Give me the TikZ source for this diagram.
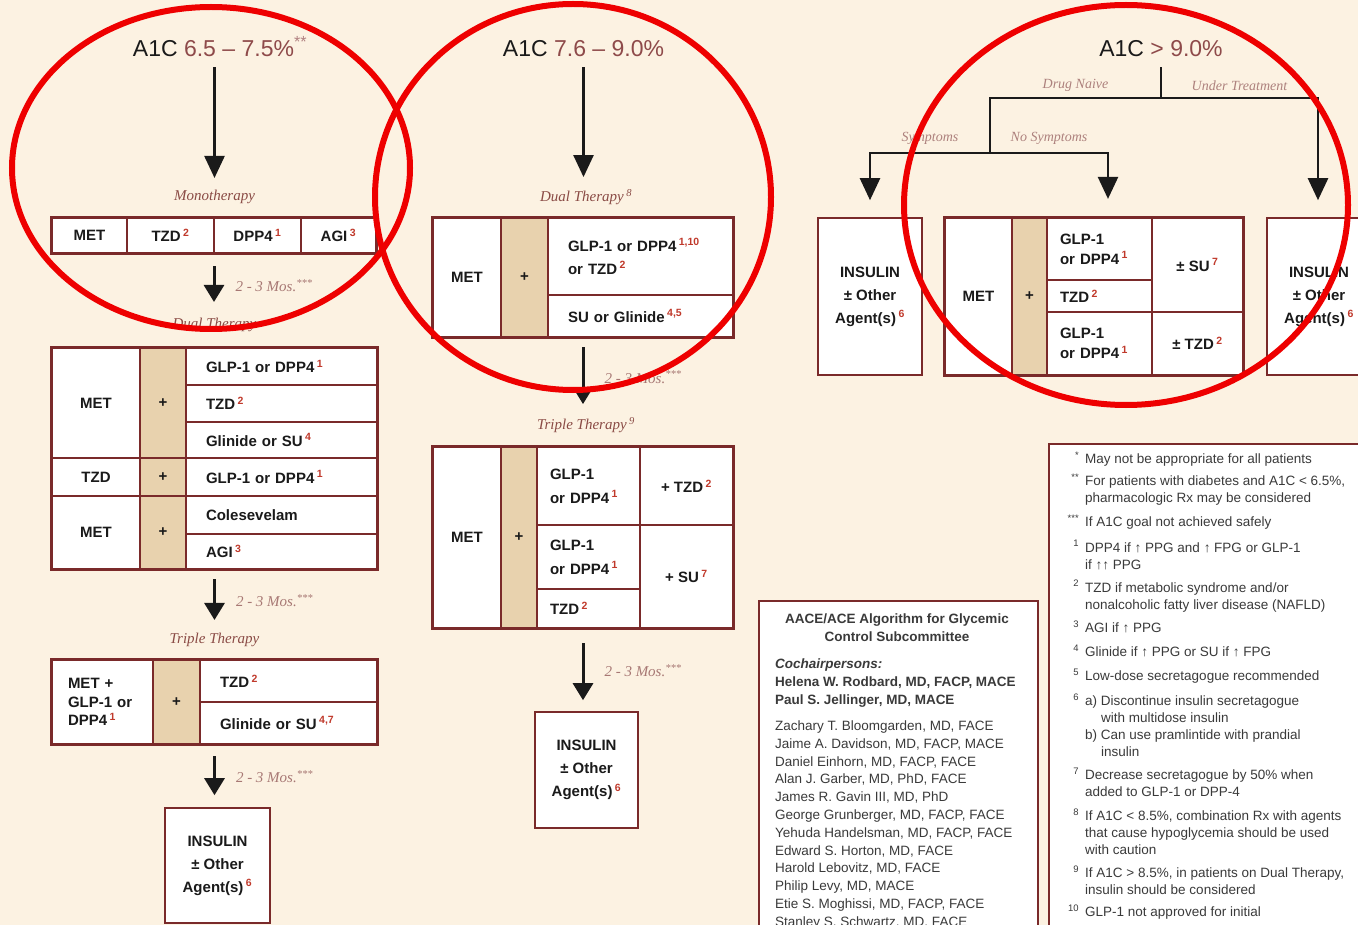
\documentclass[tikz,border=0pt]{standalone}
\usepackage{fontspec}
\setmainfont{Liberation Sans}
\newfontfamily\labfont{Liberation Serif}
\usetikzlibrary{arrows.meta, positioning, fit}
\definecolor{cbg}{HTML}{FCF2E2}
\definecolor{cframe}{HTML}{7A2A2A}
\definecolor{ctan}{HTML}{E8D2AE}
\definecolor{clabel}{HTML}{8A4B45}
\definecolor{cnum}{HTML}{8E4A4A}
\definecolor{cnote}{HTML}{C0392B}
\definecolor{cink}{HTML}{1A1A1A}
\definecolor{cgray}{HTML}{3A3A3A}
\definecolor{cring}{HTML}{EE0000}
\newcommand{\dnote}[1]{\textsuperscript{\textcolor{cnote}{#1}}}
\newcommand{\nmark}[1]{\llap{\textsuperscript{#1}\hspace{6pt}}}

\begin{document}
\begin{tikzpicture}[
  x=1pt, y=-1pt,
  drugcell/.style={draw=cframe, fill=white, line width=1.6pt, text=cink, align=center,
                   inner sep=0pt, font=\fontsize{15}{20}\selectfont\bfseries},
  pluscell/.style={drugcell, fill=ctan},
  lcell/.style={drugcell, align=left, inner xsep=20pt},
  insul/.style={drugcell, font=\fontsize{15}{23}\selectfont\bfseries},
  tabframe/.style={draw=cframe, line width=2.6pt, inner sep=0pt},
  panel/.style={draw=cframe, fill=white, line width=2pt, inner sep=0pt, anchor=north west},
  a1c/.style={font=\fontsize{23}{27}\selectfont, text=cink, inner sep=0pt, anchor=base},
  phase/.style={font=\labfont\itshape\fontsize{15}{18}\selectfont, text=clabel, inner sep=2pt},
  mos/.style={font=\labfont\itshape\fontsize{15}{18}\selectfont, text=clabel!75,
              anchor=west, inner sep=2pt, xshift=18pt},
  branch/.style={font=\labfont\itshape\fontsize{14}{16}\selectfont, text=clabel!70, inner sep=2pt},
  flow/.style={-{Triangle[length=22pt,width=20pt]}, draw=cink, line width=2.4pt},
  stepflow/.style={-{Triangle[length=17pt,width=20pt]}, draw=cink, line width=3pt},
  branchline/.style={draw=cink, line width=2pt, line cap=rect},
  notetext/.style={anchor=west, align=left, inner sep=0pt, text=cgray,
                   font=\fontsize{13.5}{17}\selectfont},
  member/.style={anchor=west, align=left, inner sep=0pt, text=cgray,
                 font=\fontsize{13.5}{17.8}\selectfont},
  ring/.style={draw=cring, line width=6pt}
]
\useasboundingbox (0,0) rectangle (1358,925);
\fill[cbg] (0,0) rectangle (1358,925);

% A1C 6.5 - 7.5 %
\node[a1c] (t1) at (220,57) {A1C \textcolor{cnum}{6.5 – 7.5\%}\textsuperscript{\textcolor{cnum!70}{**}}};
\node[phase] (lmono) at (214.5,197) {Monotherapy};
\node[drugcell, minimum width=75pt, minimum height=35pt] (m1) at (89.5,235.5) {MET};
\node[drugcell, minimum width=87pt, minimum height=35pt] (m2) at (170.5,235.5) {TZD\,\dnote{2}};
\node[drugcell, minimum width=87pt, minimum height=35pt] (m3) at (257.5,235.5) {DPP4\,\dnote{1}};
\node[drugcell, minimum width=75pt, minimum height=35pt] (m4) at (338.5,235.5) {AGI\,\dnote{3}};
\node[tabframe, fit=(m1)(m4)] (monobox) {};

\node[phase] (ldual1) at (214.5,325) {Dual Therapy};
\node[drugcell, minimum width=88pt, minimum height=110pt] (d1met) at (96,403) {MET};
\node[pluscell, minimum width=46pt, minimum height=110pt] (d1p) at (163,403) {+};
\node[lcell, text width=151pt, minimum height=37pt] (d1a) at (281.5,366.5) {GLP-1 or DPP4\,\dnote{1}};
\node[lcell, text width=151pt, minimum height=37pt] (d1b) at (281.5,403.5) {TZD\,\dnote{2}};
\node[lcell, text width=151pt, minimum height=36pt] (d1c) at (281.5,440) {Glinide or SU\,\dnote{4}};
\node[drugcell, minimum width=88pt, minimum height=38pt] (d1tzd) at (96,477) {TZD};
\node[pluscell, minimum width=46pt, minimum height=38pt] (d1p2) at (163,477) {+};
\node[lcell, text width=151pt, minimum height=38pt] (d1d) at (281.5,477) {GLP-1 or DPP4\,\dnote{1}};
\node[drugcell, minimum width=88pt, minimum height=73pt] (d1met2) at (96,532.5) {MET};
\node[pluscell, minimum width=46pt, minimum height=73pt] (d1p3) at (163,532.5) {+};
\node[lcell, text width=151pt, minimum height=38pt] (d1e) at (281.5,515) {Colesevelam};
\node[lcell, text width=151pt, minimum height=35pt] (d1f) at (281.5,551.5) {AGI\,\dnote{3}};
\node[tabframe, fit=(d1met)(d1f)] (dualbox1) {};

\node[phase] (ltriple1) at (214.5,640) {Triple Therapy};
\node[lcell, inner xsep=16pt, text width=69pt, minimum height=84pt, font=\fontsize{15}{18.5}\selectfont\bfseries] (t1a) at (102.5,702) {MET +\\GLP-1 or\\DPP4\,\dnote{1}};
\node[pluscell, minimum width=47pt, minimum height=84pt] (t1p) at (176.5,702) {+};
\node[lcell, text width=137pt, minimum height=42pt] (t1b) at (288.5,681) {TZD\,\dnote{2}};
\node[lcell, text width=137pt, minimum height=42pt] (t1c) at (288.5,723) {Glinide or SU\,\dnote{4,7}};
\node[tabframe, fit=(t1a)(t1c)] (triplebox1) {};

\node[insul, minimum width=105pt, minimum height=115pt] (ins1) at (217.5,865.5) {INSULIN\\± Other\\Agent(s)\,\dnote{6}};

\draw[flow, shorten <=10pt, shorten >=10pt] (lmono |- t1.south) -- (lmono);
\draw[stepflow, shorten <=11pt, shorten >=14pt] (monobox) -- node[mos]{2 - 3 Mos.\textsuperscript{***}} (monobox |- ldual1.north);
\draw[stepflow, shorten <=8pt, shorten >=11pt] (dualbox1) -- node[mos]{2 - 3 Mos.\textsuperscript{***}} (dualbox1 |- ltriple1.north);
\draw[stepflow, shorten <=10pt, shorten >=12pt] (triplebox1) -- node[mos]{2 - 3 Mos.\textsuperscript{***}} (triplebox1 |- ins1.north);

% A1C 7.6 - 9.0 %
\node[a1c] (t2) at (583.5,57) {A1C \textcolor{cnum}{7.6 – 9.0\%}};
\node[phase] (ldual2) at (586,197) {Dual Therapy\,\textsuperscript{8}};
\node[drugcell, minimum width=68pt, minimum height=119pt] (d2met) at (467,277.5) {MET};
\node[pluscell, minimum width=47pt, minimum height=119pt] (d2p) at (524.5,277.5) {+};
\node[lcell, text width=145pt, minimum height=77pt, font=\fontsize{15}{23}\selectfont\bfseries] (d2a) at (640.5,256.5) {GLP-1 or DPP4\,\dnote{1,10}\\or TZD\,\dnote{2}};
\node[lcell, text width=145pt, minimum height=42pt] (d2b) at (640.5,316) {SU or Glinide\,\dnote{4,5}};
\node[tabframe, fit=(d2met)(d2b)] (dualbox2) {};

\node[phase] (ltriple2) at (586,425) {Triple Therapy\,\textsuperscript{9}};
\node[drugcell, minimum width=68pt, minimum height=181pt] (t2met) at (467,537.5) {MET};
\node[pluscell, minimum width=36pt, minimum height=181pt] (t2p) at (519,537.5) {+};
\node[lcell, inner xsep=13pt, text width=77pt, minimum height=78pt, font=\fontsize{15}{24}\selectfont\bfseries] (t2a) at (588.5,486) {GLP-1\\or DPP4\,\dnote{1}};
\node[drugcell, minimum width=93pt, minimum height=78pt] (t2b) at (686.5,486) {+ TZD\,\dnote{2}};
\node[lcell, inner xsep=13pt, text width=77pt, minimum height=64pt, font=\fontsize{15}{24}\selectfont\bfseries] (t2c) at (588.5,557) {GLP-1\\or DPP4\,\dnote{1}};
\node[lcell, inner xsep=13pt, text width=77pt, minimum height=39pt] (t2d) at (588.5,608.5) {TZD\,\dnote{2}};
\node[drugcell, minimum width=93pt, minimum height=103pt] (t2e) at (686.5,576.5) {+ SU\,\dnote{7}};
\node[tabframe, fit=(t2met)(t2e)] (triplebox2) {};

\node[insul, minimum width=103pt, minimum height=116pt] (ins2) at (586.5,770) {INSULIN\\± Other\\Agent(s)\,\dnote{6}};

\draw[flow, shorten <=10pt, shorten >=10pt] (t2) -- (t2 |- ldual2.north);
\draw[stepflow, shorten <=8pt, shorten >=11pt] (dualbox2) -- node[mos]{2 - 3 Mos.\textsuperscript{***}} (dualbox2 |- ltriple2.north);
\draw[stepflow, shorten <=13pt, shorten >=11pt] (triplebox2) -- node[mos]{2 - 3 Mos.\textsuperscript{***}} (triplebox2 |- ins2.north);

% A1C > 9.0 %
\node[a1c] (t3) at (1161,57) {A1C \textcolor{cnum}{> 9.0\%}};
\coordinate (top3) at (1161,98);
\coordinate (naive) at (990,98);
\coordinate (treated) at (1318,98);
\coordinate (split) at (990,153);
\coordinate (sympt) at (870,153);
\coordinate (nosympt) at (1108,153);

\node[insul, minimum width=104pt, minimum height=157pt] (ins3a) at (870,296.5) {INSULIN\\± Other\\Agent(s)\,\dnote{6}};
\node[drugcell, minimum width=67pt, minimum height=157pt] (b3met) at (978.5,296.5) {MET};
\node[pluscell, minimum width=35pt, minimum height=157pt] (b3p) at (1029.5,296.5) {+};
\node[lcell, inner xsep=13pt, text width=79pt, minimum height=62pt] (b3a) at (1099.5,249) {GLP-1\\or DPP4\,\dnote{1}};
\node[lcell, inner xsep=13pt, text width=79pt, minimum height=32pt] (b3b) at (1099.5,296) {TZD\,\dnote{2}};
\node[lcell, inner xsep=13pt, text width=79pt, minimum height=63pt] (b3c) at (1099.5,343.5) {GLP-1\\or DPP4\,\dnote{1}};
\node[drugcell, minimum width=91pt, minimum height=94pt] (b3d) at (1197.5,265) {± SU\,\dnote{7}};
\node[drugcell, minimum width=91pt, minimum height=63pt] (b3e) at (1197.5,343.5) {± TZD\,\dnote{2}};
\node[tabframe, fit=(b3met)(b3e)] (bigbox3) {};
\node[insul, minimum width=104pt, minimum height=157pt] (ins3b) at (1319,296.5) {INSULIN\\± Other\\Agent(s)\,\dnote{6}};

\draw[branchline, shorten <=11pt] (t3) -- (top3);
\draw[branchline] (naive) -- node[branch, above=4pt]{Drug Naive} (top3) -- node[branch, above=4pt]{Under Treatment} (treated);
\draw[branchline] (naive) -- (split);
\draw[branchline] (sympt) -- node[branch, above=5pt]{Symptoms} (split) -- node[branch, above=5pt]{No Symptoms} (nosympt);
\draw[flow, shorten >=17pt] (sympt) -- (ins3a);
\draw[flow, shorten >=17pt] (nosympt) -- (nosympt |- bigbox3.north);
\draw[flow, shorten >=17pt] (treated) -- (treated |- ins3b.north);

% committee
\node[panel, minimum width=279pt, minimum height=345pt] (comm) at (758,600) {};
\node[text=cgray, align=center, inner sep=0pt, font=\fontsize{13.5}{18}\selectfont\bfseries] (commhead) at (897,628) {AACE/ACE Algorithm for Glycemic\\Control Subcommittee};
\node[member, font=\fontsize{13.5}{18}\selectfont\bfseries] (chairs) at (775,683) {\textit{Cochairpersons:}\\Helena W. Rodbard, MD, FACP, MACE\\Paul S. Jellinger, MD, MACE};
\node[member] (members) at (775,825) {Zachary T. Bloomgarden, MD, FACE\\Jaime A. Davidson, MD, FACP, MACE\\Daniel Einhorn, MD, FACP, FACE\\Alan J. Garber, MD, PhD, FACE\\James R. Gavin III, MD, PhD\\George Grunberger, MD, FACP, FACE\\Yehuda Handelsman, MD, FACP, FACE\\Edward S. Horton, MD, FACE\\Harold Lebovitz, MD, FACE\\Philip Levy, MD, MACE\\Etie S. Moghissi, MD, FACP, FACE\\Stanley S. Schwartz, MD, FACE};

% footnotes
\node[panel, minimum width=330pt, minimum height=500pt] (notes) at (1048,443) {};
\node[notetext] (fnA) at (1085,459) {\nmark{*}May not be appropriate for all patients};
\node[notetext] (fnB) at (1085,490) {\nmark{**}For patients with diabetes and A1C < 6.5\%,\\pharmacologic Rx may be considered};
\node[notetext] (fnC) at (1085,522) {\nmark{***}If A1C goal not achieved safely};
\node[notetext] (fn1) at (1085,555) {\nmark{1}DPP4 if ↑ PPG and ↑ FPG or GLP-1\\if ↑↑ PPG};
\node[notetext] (fn2) at (1085,596) {\nmark{2}TZD if metabolic syndrome and/or\\nonalcoholic fatty liver disease (NAFLD)};
\node[notetext] (fn3) at (1085,627) {\nmark{3}AGI if ↑ PPG};
\node[notetext] (fn4) at (1085,651) {\nmark{4}Glinide if ↑ PPG or SU if ↑ FPG};
\node[notetext] (fn5) at (1085,676) {\nmark{5}Low-dose secretagogue recommended};
\node[notetext] (fn6) at (1085,725) {\nmark{6}a) Discontinue insulin secretagogue\\\hspace*{16pt}with multidose insulin\\b) Can use pramlintide with prandial\\\hspace*{16pt}insulin};
\node[notetext] (fn7) at (1085,782.5) {\nmark{7}Decrease secretagogue by 50\% when\\added to GLP-1 or DPP-4};
\node[notetext] (fn8) at (1085,832) {\nmark{8}If A1C < 8.5\%, combination Rx with agents\\that cause hypoglycemia should be used\\with caution};
\node[notetext] (fn9) at (1085,880.5) {\nmark{9}If A1C > 8.5\%, in patients on Dual Therapy,\\insulin should be considered};
\node[notetext] (fn10) at (1085,912) {\nmark{10}GLP-1 not approved for initial};

% red rings
\draw[ring] (211,168) ellipse [x radius=199pt, y radius=161pt];
\draw[ring] (573,197) ellipse [x radius=198pt, y radius=193pt];
\draw[ring] (1126,205) ellipse [x radius=222pt, y radius=200pt];
\end{tikzpicture}
\end{document}
